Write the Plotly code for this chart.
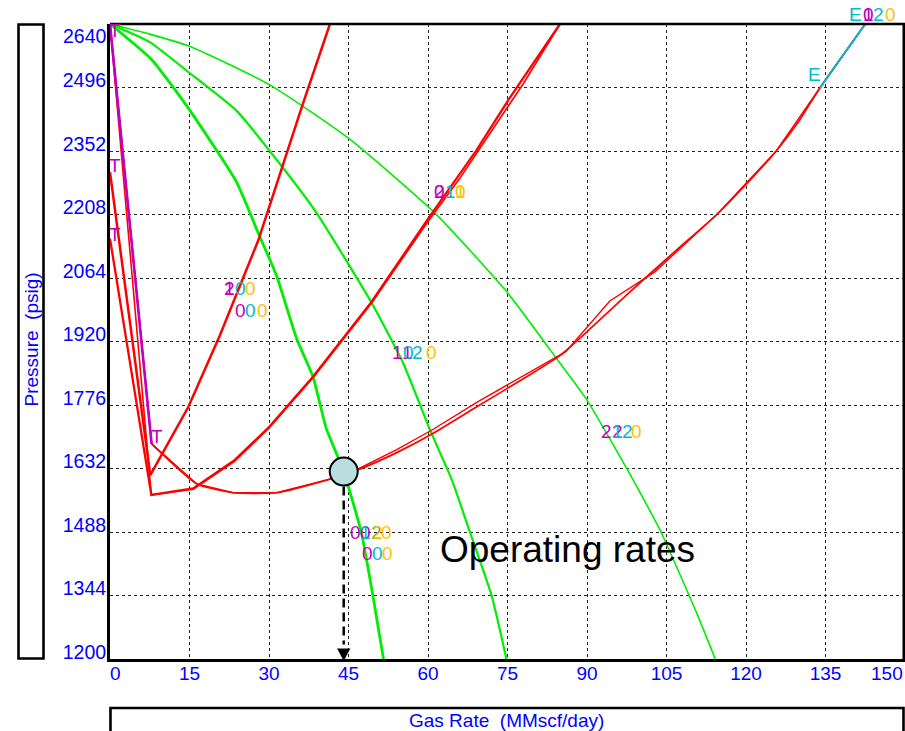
import plotly.graph_objects as go

# ---------------- data ----------------
# Inflow (IPR) curves: gas rate (MMscf/day) vs pressure (psig)
ipr1_q = [0, 7.8, 14.9, 23.9, 27.9, 31.4, 35.2, 38.3, 40.8, 44.0, 47.4, 49.6, 51.6]
ipr1_p = [2640, 2560, 2447, 2281, 2168, 2070, 1927, 1840, 1723, 1628, 1488, 1344, 1200]

ipr2_q = [0, 7.5, 14.9, 23.9, 32.3, 38.9, 49.3, 55.2, 60.4, 64.5, 67.9, 72.0, 74.8]
ipr2_p = [2640, 2599, 2530, 2443, 2319, 2213, 2009, 1874, 1719, 1606, 1488, 1344, 1200]

ipr3_q = [0, 7.5, 14.9, 30.0, 45.0, 61.5, 74.9, 84.7, 90.0, 96.6, 98.7, 103.8, 110.7, 114.2]
ipr3_p = [2640, 2617, 2590, 2503, 2381, 2209, 2032, 1874, 1787, 1651, 1606, 1492, 1304, 1200]

# Outflow (VLP) curves
vlp1_q = [0, 7.6, 14.8, 20.7, 28.0, 32.7, 36.2, 41.5]
vlp1_p = [2304, 1617, 1772, 1933, 2150, 2325, 2452, 2640]

vlp2_q = [0, 7.8, 15.7, 23.5, 30.1, 38.3, 49.3, 60.0, 69.1, 75.3, 84.9]
vlp2_p = [2153, 1572, 1587, 1651, 1727, 1840, 2009, 2198, 2353, 2470, 2640]

vlp3_q = [0, 7.6, 7.8, 15.7, 23.5, 30.1, 38.3, 49.3, 60.0, 66.0, 72.5, 78.0, 84.9]
vlp3_p = [2640, 1617, 1572, 1585, 1648, 1725, 1838, 2006, 2192, 2290, 2408, 2505, 2640]

# tubing-head section, then the smooth outflow branch through the operating point
vlp4_head_q = [0, 7.85]
vlp4_head_p = [2640, 1688]
vlp4_q = [7.85, 16.4, 23.3, 31.4, 41.5, 44.1, 47.0, 54.1, 61.0, 69.2, 78.6, 84.9,
          90.0, 95.0, 101.0, 107.5, 114.5, 120.0, 125.7, 130.0, 134.0, 142.5]
vlp4_p = [1688, 1597, 1577, 1577, 1608, 1618, 1630, 1668, 1712, 1772, 1840, 1888,
          1942, 1998, 2064, 2134, 2208, 2276, 2352, 2420, 2496, 2640]

vlp5_q = [0, 7.85, 16.4, 23.3, 31.4, 41.5, 44.1, 47.0, 54.1, 61.0, 69.2, 78.6, 86.0,
          94.3, 102.8, 114.5, 125.7, 134.0, 142.5]
vlp5_p = [2640, 1688, 1597, 1577, 1577, 1608, 1618, 1632, 1675, 1721, 1782, 1846, 1897,
          2012, 2078, 2208, 2352, 2496, 2640]

# Tubing section and erosional segment
tubing_q = [0, 7.85]
tubing_p = [2640, 1688]
erosion_q = [134.0, 142.5]
erosion_p = [2496, 2640]

# Operating point
op_q, op_p = 44.1, 1625

# Axis ticks
x_ticks = [0, 15, 30, 45, 60, 75, 90, 105, 120, 135, 150]
y_ticks = [1200, 1344, 1488, 1632, 1776, 1920, 2064, 2208, 2352, 2496, 2640]

# Curve tags: (rate, pressure, text, colour)
MAG, CYN, ORG = "#C000C0", "#00BCC8", "#FFC000"
tags = [
    (22.64, 2041, "1", MAG), (22.64, 2041, "2", MAG), (24.53, 2041, "0", CYN), (26.51, 2041, "0", ORG),
    (24.53, 1991, "0", MAG), (26.60, 1991, "0", CYN), (28.68, 1991, "0", ORG),
    (54.15, 1894, "1", MAG), (56.04, 1894, "1", MAG), (56.23, 1894, "0", CYN), (58.11, 1894, "2", CYN),
    (60.57, 1894, "0", ORG),
    (62.26, 2261, "2", MAG), (62.26, 2261, "0", MAG), (64.15, 2261, "1", CYN), (66.04, 2261, "1", ORG),
    (66.04, 2261, "0", ORG),
    (93.77, 1717, "2", MAG), (95.66, 1717, "2", MAG), (95.66, 1717, "1", CYN), (97.55, 1717, "2", CYN),
    (99.43, 1717, "0", ORG),
    (46.23, 1486, "0", MAG), (48.30, 1486, "0", MAG), (48.30, 1486, "1", CYN), (50.19, 1486, "2", CYN),
    (50.38, 1486, "2", ORG), (52.08, 1486, "0", ORG),
    (48.49, 1440, "0", MAG), (50.47, 1440, "0", CYN), (52.36, 1440, "0", ORG),
    (132.83, 2525, "E", CYN),
    (0.94, 2625, "T", MAG), (0.94, 2320, "T", MAG), (0.94, 2162, "T", MAG), (8.87, 1704, "T", MAG),
]
# tags printed just above the top of the frame (rate, text, colour)
top_tags = [(140.75, "E", CYN), (143.02, "1", MAG), (143.02, "0", MAG),
            (144.91, "2", CYN), (147.17, "0", ORG)]

# ---------------- figure ----------------
FONT = "Liberation Sans, Arial, sans-serif"
BLUE = "#0000FF"
RED = "#FF0000"
GREEN = "#00EE00"

W, H = 905, 731
ML, MR, MT, MB = 110, 0, 24, 72
XR = (0, 150)
YR = (1200, 2640)
PW, PH = W - ML - MR, H - MT - MB
px_per_q = PW / (XR[1] - XR[0])
px_per_p = PH / (YR[1] - YR[0])

fig = go.Figure()


def add_line(q, p, color, width, shape="linear"):
    fig.add_trace(go.Scatter(x=q, y=p, mode="lines",
                             line=dict(color=color, width=width, shape=shape, smoothing=0.5),
                             hoverinfo="skip"))


add_line(ipr1_q, ipr1_p, GREEN, 2.8, "spline")
add_line(ipr2_q, ipr2_p, GREEN, 2.2, "spline")
add_line(ipr3_q, ipr3_p, GREEN, 1.6, "spline")

add_line(vlp1_q, vlp1_p, RED, 2.5)
add_line(vlp2_q, vlp2_p, RED, 2.3)
add_line(vlp3_q, vlp3_p, RED, 1.6)
add_line(vlp4_head_q, vlp4_head_p, RED, 1.6)
add_line(vlp4_q, vlp4_p, RED, 1.7, "spline")
add_line(vlp5_q, vlp5_p, RED, 1.4)

add_line(tubing_q, tubing_p, MAG, 2.6)
add_line(erosion_q, erosion_p, CYN, 2.0)

# dashed drop line from the operating point to the rate axis
arrow_h = 12.5 / px_per_p
arrow_w = 6.6 / px_per_q
fig.add_shape(type="line", xref="x", yref="y", x0=op_q, x1=op_q,
              y0=op_p - 15 / px_per_p, y1=YR[0] + arrow_h + 2 / px_per_p,
              line=dict(color="black", width=2.5, dash="9px,5px"))
tip = YR[0] - 2 / px_per_p
fig.add_shape(type="path", xref="x", yref="y",
              path=f"M {op_q - arrow_w},{tip + arrow_h} L {op_q + arrow_w},{tip + arrow_h} L {op_q},{tip} Z",
              fillcolor="black", line=dict(color="black", width=0))

fig.add_trace(go.Scatter(x=[op_q], y=[op_p], mode="markers",
                         marker=dict(size=28, color="#BADDE0", line=dict(color="black", width=2)),
                         hoverinfo="skip", cliponaxis=False))

for q, p, t, c in tags:
    fig.add_annotation(x=q, y=p, xref="x", yref="y", text=t, showarrow=False,
                       xanchor="center", yanchor="middle",
                       font=dict(family=FONT, size=19, color=c))
for q, t, c in top_tags:
    fig.add_annotation(x=q, y=1 + 9.5 / PH, xref="x", yref="paper", text=t, showarrow=False,
                       xanchor="center", yanchor="middle",
                       font=dict(family=FONT, size=19, color=c))

fig.add_annotation(x=61.9, y=1449, xref="x", yref="y", text="Operating rates", showarrow=False,
                   xanchor="left", yanchor="middle", font=dict(family=FONT, size=37, color="black"))

# tick labels that sit inside the frame ends
fig.add_annotation(x=0, y=1 - 11.8 / PH, xref="paper", yref="paper", text="2640", showarrow=False,
                   xanchor="right", yanchor="middle", xshift=-1,
                   font=dict(family=FONT, size=19.5, color=BLUE))
fig.add_annotation(x=0, y=-14.5 / PH, xref="x", yref="paper", text="0", showarrow=False,
                   xanchor="left", yanchor="middle", xshift=-2,
                   font=dict(family=FONT, size=19, color=BLUE))
fig.add_annotation(x=150, y=-14.5 / PH, xref="x", yref="paper", text="150", showarrow=False,
                   xanchor="right", yanchor="middle", xshift=0,
                   font=dict(family=FONT, size=19, color=BLUE))

# axis title boxes
fig.add_shape(type="rect", xref="paper", yref="paper",
              x0=(18.5 - ML) / PW, x1=(43.5 - ML) / PW,
              y0=0.0008, y1=0.9992, line=dict(color="black", width=2.6))
fig.add_shape(type="rect", xref="paper", yref="paper",
              x0=0.0006, x1=(903.5 - ML) / PW,
              y0=-0.3, y1=-49 / PH,
              line=dict(color="black", width=2.6))
fig.add_annotation(x=(30.5 - ML) / PW, y=(659 - 340) / PH, xref="paper", yref="paper",
                   text="Pressure\u00a0 (psig)", textangle=-90, showarrow=False,
                   xanchor="center", yanchor="middle",
                   font=dict(family=FONT, size=19, color=BLUE))
fig.add_annotation(x=(506 - ML) / PW, y=-61.5 / PH, xref="paper", yref="paper",
                   text="Gas Rate\u00a0 (MMscf/day)", showarrow=False,
                   xanchor="center", yanchor="middle",
                   font=dict(family=FONT, size=19, color=BLUE))

# top and right frame edges
fig.add_shape(type="line", xref="paper", yref="paper", x0=0, x1=1, y0=1, y1=1,
              line=dict(color="black", width=2.4))
fig.add_shape(type="line", xref="paper", yref="paper", x0=(903.8 - ML) / PW,
              x1=(903.8 - ML) / PW, y0=0, y1=1, line=dict(color="black", width=2.6))

fig.update_xaxes(range=list(XR), tickvals=x_ticks,
                 ticktext=["" if v in (0, 150) else str(v) for v in x_ticks],
                 showgrid=True, gridcolor="#222222", gridwidth=1, griddash="3px,3px",
                 showline=True, linecolor="black", linewidth=3, zeroline=False, ticks="",
                 ticklabelstandoff=-5,
                 tickfont=dict(family=FONT, size=19, color=BLUE))
fig.update_yaxes(range=list(YR), tickvals=y_ticks,
                 ticktext=["" if v == 2640 else str(v) for v in y_ticks],
                 showgrid=True, gridcolor="#222222", gridwidth=1, griddash="3px,3px",
                 showline=True, linecolor="black", linewidth=3, zeroline=False, ticks="",
                 ticklabelshift=-7, ticklabelstandoff=-3,
                 tickfont=dict(family=FONT, size=19.5, color=BLUE))

fig.update_layout(width=W, height=H, margin=dict(l=ML, r=MR, t=MT, b=MB),
                  plot_bgcolor="white", paper_bgcolor="white", showlegend=False)

fig.write_html("out.html")
